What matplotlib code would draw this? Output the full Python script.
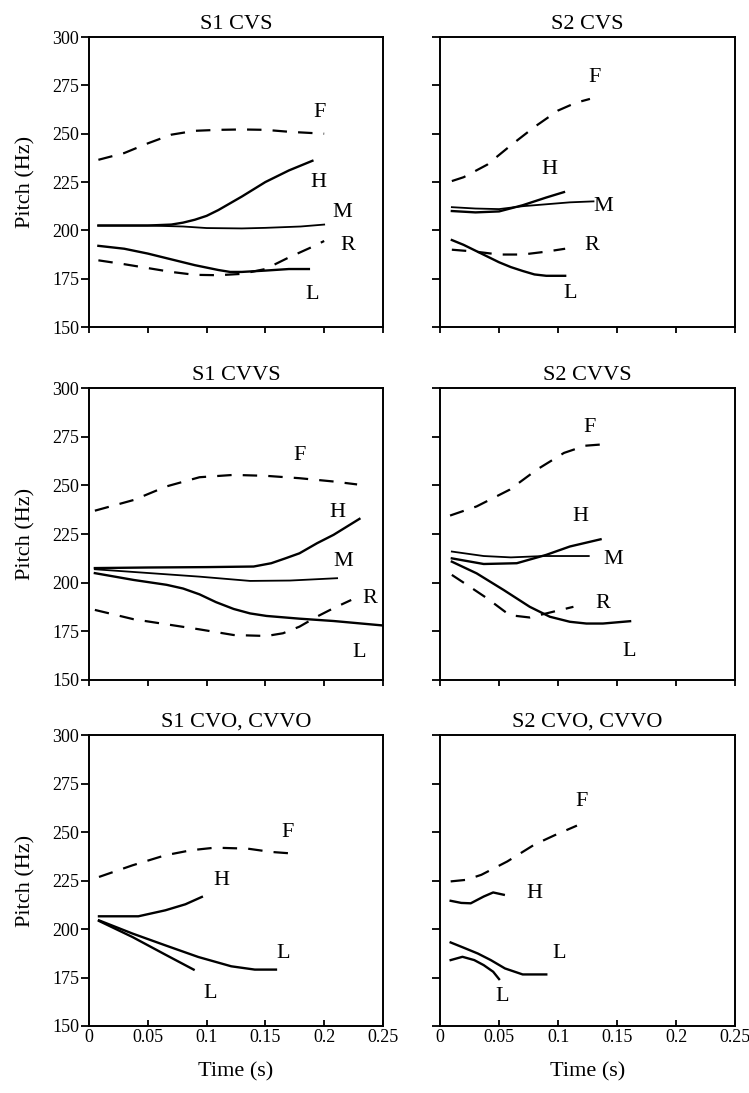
import matplotlib
matplotlib.use('Agg')
import matplotlib.pyplot as plt

plt.rcParams['font.family'] = ['Liberation Serif', 'DejaVu Serif']

xticks = [0, 0.05, 0.1, 0.15, 0.2, 0.25]
xticklabels = ['0', '0.05', '0.1', '0.15', '0.2', '0.25']
yticks = [150, 175, 200, 225, 250, 275, 300]

titles = ['S1 CVS', 'S2 CVS', 'S1 CVVS', 'S2 CVVS', 'S1 CVO, CVVO', 'S2 CVO, CVVO']

# S1 CVS
s1cvs_F_t = [0.008, 0.03, 0.05, 0.07, 0.09, 0.11, 0.13, 0.15, 0.17, 0.2]
s1cvs_F = [236.5, 240, 245, 249.5, 251.5, 252, 252.2, 252, 251, 250]
s1cvs_H_t = [0.008, 0.03, 0.05, 0.07, 0.08, 0.09, 0.1, 0.11, 0.13, 0.15, 0.17, 0.19]
s1cvs_H = [202.5, 202.5, 202.5, 203, 204, 205.5, 207.5, 210.5, 217.5, 225, 231, 236]
s1cvs_M_t = [0.008, 0.05, 0.08, 0.1, 0.13, 0.15, 0.18, 0.2]
s1cvs_M = [202.5, 202.5, 202, 201.2, 201, 201.3, 202, 203]
s1cvs_L_t = [0.008, 0.03, 0.05, 0.07, 0.09, 0.11, 0.12, 0.13, 0.15, 0.17, 0.187]
s1cvs_L = [192, 190.5, 188, 185, 182, 179.5, 178.5, 178.5, 179.2, 180, 180]
s1cvs_R_t = [0.008, 0.03, 0.05, 0.07, 0.09, 0.11, 0.13, 0.15, 0.17, 0.19, 0.2]
s1cvs_R = [184.5, 182.5, 180.5, 178.5, 177, 176.8, 177.5, 180, 186, 191.5, 194.5]

# S2 CVS
s2cvs_F_t = [0.01, 0.02, 0.04, 0.06, 0.08, 0.1, 0.115, 0.127]
s2cvs_F = [225.5, 227.5, 234, 244, 253.5, 262, 266, 268]
s2cvs_H_t = [0.01, 0.03, 0.05, 0.07, 0.09, 0.105]
s2cvs_H = [210, 209.3, 209.8, 213, 217, 219.8]
s2cvs_M_t = [0.01, 0.03, 0.05, 0.07, 0.09, 0.11, 0.13]
s2cvs_M = [212, 211.3, 211, 212.5, 213.5, 214.5, 215]
s2cvs_L_t = [0.01, 0.02, 0.03, 0.04, 0.05, 0.06, 0.07, 0.08, 0.09, 0.106]
s2cvs_L = [195, 192.5, 189.5, 186.5, 183.5, 181, 179, 177.2, 176.5, 176.5]
s2cvs_R_t = [0.01, 0.03, 0.05, 0.07, 0.09, 0.106]
s2cvs_R = [190, 189, 187.5, 187.5, 189, 190.5]

# S1 CVVS
s1cvvs_F_t = [0.005, 0.038, 0.066, 0.094, 0.123, 0.151, 0.179, 0.208, 0.228]
s1cvvs_F = [237, 242.5, 249.5, 254.2, 255.4, 254.9, 253.7, 252, 250.5]
s1cvvs_H_t = [0.005, 0.05, 0.1, 0.14, 0.155, 0.167, 0.179, 0.194, 0.208, 0.23]
s1cvvs_H = [207.5, 207.8, 208, 208.3, 210, 212.5, 215.1, 220.3, 224.6, 232.8]
s1cvvs_M_t = [0.005, 0.052, 0.094, 0.137, 0.171, 0.211]
s1cvvs_M = [206.9, 204.9, 203.1, 200.9, 201.1, 202.3]
s1cvvs_L_t = [0.005, 0.038, 0.066, 0.08, 0.094, 0.108, 0.123, 0.137, 0.151, 0.179, 0.208, 0.25]
s1cvvs_L = [204.9, 201.4, 198.9, 197, 194, 190, 186.5, 184.2, 182.9, 181.5, 180.3, 178]
s1cvvs_R_t = [0.005, 0.038, 0.066, 0.094, 0.123, 0.151, 0.165, 0.179, 0.194, 0.208, 0.223]
s1cvvs_R = [186, 181.2, 178.6, 176, 173.1, 172.6, 174, 177.4, 182.6, 186.9, 191.1]

# S2 CVVS
s2cvvs_F_t = [0.0085, 0.031, 0.059, 0.082, 0.105, 0.123, 0.136]
s2cvvs_F = [234.5, 239.2, 247.8, 258.1, 266.7, 270.4, 271]
s2cvvs_H_t = [0.01, 0.037, 0.065, 0.09, 0.11, 0.136]
s2cvvs_H = [212.5, 209.6, 210, 214.3, 218.6, 222.3]
s2cvvs_M_t = [0.01, 0.037, 0.06, 0.088, 0.126]
s2cvvs_M = [216, 213.7, 213, 213.7, 213.7]
s2cvvs_L_t = [0.01, 0.031, 0.054, 0.076, 0.093, 0.11, 0.124, 0.138, 0.161]
s2cvvs_L = [210.8, 204.8, 196.2, 187.6, 182.5, 179.9, 179, 179, 180.2]
s2cvvs_R_t = [0.01, 0.025, 0.04, 0.059, 0.076, 0.09, 0.113]
s2cvvs_R = [204, 198, 191.9, 183.3, 182.1, 184.2, 187.6]

# S1 CVO, CVVO
s1cvo_F_t = [0.0085, 0.037, 0.065, 0.087, 0.107, 0.135, 0.155, 0.175]
s1cvo_F = [226.9, 232.9, 238.1, 240.7, 242, 241.5, 239.8, 238.9]
s1cvo_H_t = [0.0085, 0.042, 0.065, 0.082, 0.096]
s1cvo_H = [206.6, 206.6, 209.7, 212.8, 216.6]
s1cvo_L1_t = [0.0085, 0.037, 0.065, 0.093, 0.121, 0.141, 0.159]
s1cvo_L1 = [204.5, 197.7, 191.6, 185.6, 180.8, 179.1, 179.1]
s1cvo_L2_t = [0.0085, 0.037, 0.065, 0.089]
s1cvo_L2 = [204.2, 195.9, 186.8, 179.1]

# S2 CVO, CVVO
s2cvo_F_t = [0.009, 0.022, 0.035, 0.057, 0.08, 0.097, 0.116]
s2cvo_F = [224.6, 225.4, 228, 234.9, 243.6, 248.4, 253.4]
s2cvo_H_t = [0.009, 0.018, 0.026, 0.037, 0.045, 0.054]
s2cvo_H = [214.6, 213.5, 213.3, 216.8, 218.9, 217.7]
s2cvo_L1_t = [0.009, 0.02, 0.032, 0.043, 0.055, 0.07, 0.09]
s2cvo_L1 = [193.1, 190.4, 187.4, 184, 179.7, 176.6, 176.6]
s2cvo_L2_t = [0.009, 0.019, 0.029, 0.037, 0.045, 0.05]
s2cvo_L2 = [184, 185.7, 184, 181.4, 178, 174.2]

panels = [
    [(s1cvs_F_t, s1cvs_F, '--'), (s1cvs_H_t, s1cvs_H, '-'), (s1cvs_M_t, s1cvs_M, 'thin'),
     (s1cvs_L_t, s1cvs_L, '-'), (s1cvs_R_t, s1cvs_R, '--')],
    [(s2cvs_F_t, s2cvs_F, '--'), (s2cvs_H_t, s2cvs_H, '-'), (s2cvs_M_t, s2cvs_M, 'thin'),
     (s2cvs_L_t, s2cvs_L, '-'), (s2cvs_R_t, s2cvs_R, '--')],
    [(s1cvvs_F_t, s1cvvs_F, '--'), (s1cvvs_H_t, s1cvvs_H, '-'), (s1cvvs_M_t, s1cvvs_M, 'thin'),
     (s1cvvs_L_t, s1cvvs_L, '-'), (s1cvvs_R_t, s1cvvs_R, '--')],
    [(s2cvvs_F_t, s2cvvs_F, '--'), (s2cvvs_H_t, s2cvvs_H, '-'), (s2cvvs_M_t, s2cvvs_M, 'thin'),
     (s2cvvs_L_t, s2cvvs_L, '-'), (s2cvvs_R_t, s2cvvs_R, '--')],
    [(s1cvo_F_t, s1cvo_F, '--'), (s1cvo_H_t, s1cvo_H, '-'),
     (s1cvo_L1_t, s1cvo_L1, '-'), (s1cvo_L2_t, s1cvo_L2, '-')],
    [(s2cvo_F_t, s2cvo_F, '--'), (s2cvo_H_t, s2cvo_H, '-'),
     (s2cvo_L1_t, s2cvo_L1, '-'), (s2cvo_L2_t, s2cvo_L2, '-')],
]

# tone letters next to the curves (text, t, Hz)
tone_labels = [
    [('F', 0.196, 261), ('H', 0.195, 225), ('M', 0.215, 209), ('R', 0.22, 192), ('L', 0.19, 167)],
    [('F', 0.131, 279), ('H', 0.093, 231.5), ('M', 0.138, 212.5), ('R', 0.129, 192), ('L', 0.11, 167.5)],
    [('F', 0.179, 265.5), ('H', 0.211, 236), ('M', 0.216, 211), ('R', 0.239, 192), ('L', 0.23, 164)],
    [('F', 0.127, 280), ('H', 0.119, 234), ('M', 0.147, 211.7), ('R', 0.138, 189.3), ('L', 0.16, 164.4)],
    [('F', 0.169, 250), ('H', 0.113, 225.2), ('L', 0.165, 187.3), ('L', 0.103, 166.7)],
    [('F', 0.12, 266), ('H', 0.08, 218.5), ('L', 0.101, 187.5), ('L', 0.053, 165)],
]

fig = plt.figure(figsize=(7.49, 10.93), dpi=100)

lefts = [0.1188, 0.5875]
widths = [0.3925, 0.394]
bottoms = [0.7008, 0.3779, 0.0613]
heights = [0.2653, 0.267, 0.266]

for i in range(6):
    row = i // 2
    col = i % 2
    ax = fig.add_axes([lefts[col], bottoms[row], widths[col], heights[row]])
    for t, f, ls in panels[i]:
        if ls == '--':
            ax.plot(t, f, color='black', lw=1.6, dashes=(6.5, 5))
        elif ls == 'thin':
            ax.plot(t, f, color='black', lw=1.3)
        else:
            ax.plot(t, f, color='black', lw=1.7)
    for txt, tx, ty in tone_labels[i]:
        ax.text(tx, ty, txt, fontsize=16, ha='center', va='center')

    ax.set_xlim(0, 0.25)
    ax.set_ylim(150, 300)
    ax.set_xticks(xticks)
    ax.set_yticks(yticks)
    for sp in ax.spines.values():
        sp.set_linewidth(1.4)
    ax.set_title(titles[i], fontsize=16, pad=6)

    if row == 2:
        ax.set_xticklabels(xticklabels)
        ax.tick_params(axis='x', direction='in', length=4, width=1.3, pad=2, labelsize=13)
        ax.set_xlabel('Time (s)', fontsize=16, labelpad=12)
    else:
        ax.set_xticklabels([])
        ax.tick_params(axis='x', direction='out', length=4, width=1.3)

    ax.tick_params(axis='y', direction='out', length=6, width=1.3, pad=1, labelsize=13)
    if col == 0:
        ax.set_ylabel('Pitch (Hz)', fontsize=16, labelpad=12)
    else:
        ax.set_yticklabels([])

fig.savefig('out.png', dpi=100)
